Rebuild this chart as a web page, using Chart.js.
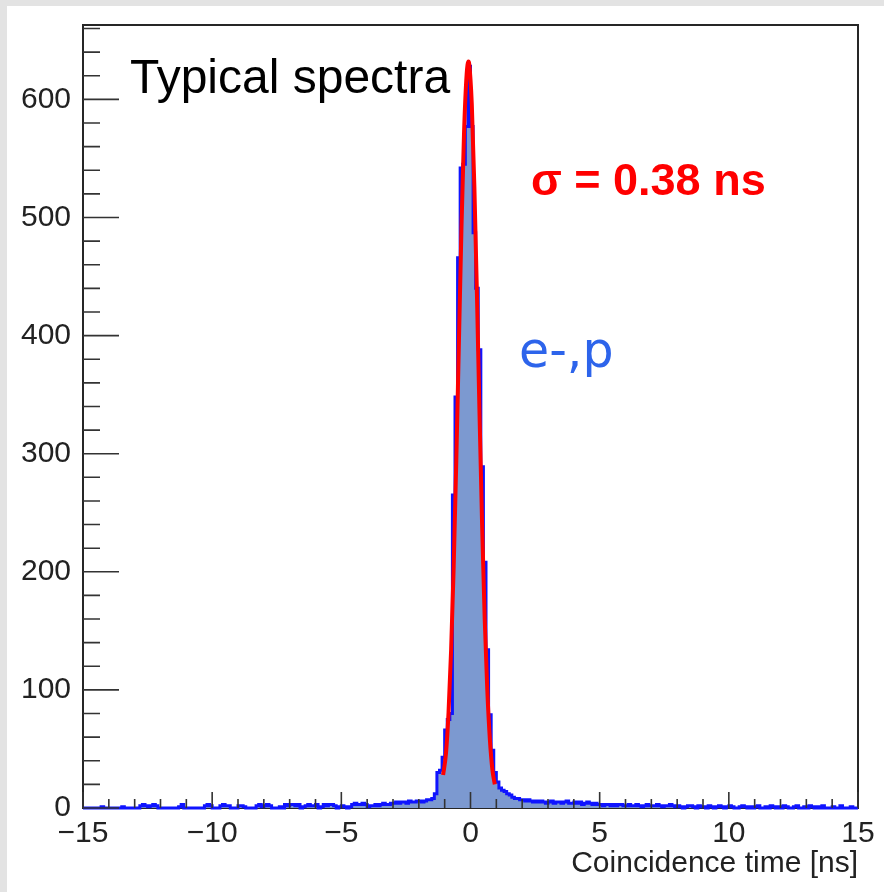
<!DOCTYPE html>
<html>
<head>
<meta charset="utf-8">
<script src="https://cdn.jsdelivr.net/npm/chart.js@4.4.1/dist/chart.umd.min.js"></script>
<style>
  html, body { margin: 0; padding: 0; background: #fff; }
  canvas { display: block; }
</style>
</head>
<body>
<canvas id="chart" width="884" height="892"></canvas>
<script>
// coincidence time histogram, 0.1 ns bins from -15 to 15 ns
const binStart = -15;
const binWidth = 0.1;
const counts = [
  0, 0, 0, 0, 0, 0, 0, 1, 0, 0,
  0, 0, 0, 0, 0, 1, 0, 0, 0, 0,
  0, 0, 2, 3, 2, 1, 2, 3, 2, 0,
  0, 0, 0, 0, 0, 0, 0, 1, 3, 0,
  0, 0, 0, 0, 0, 0, 0, 2, 3, 2,
  0, 0, 0, 2, 3, 2, 2, 0, 0, 0,
  2, 2, 1, 0, 0, 0, 0, 2, 3, 1,
  2, 3, 2, 0, 0, 0, 1, 0, 3, 2,
  3, 3, 2, 3, 0, 1, 2, 3, 2, 2,
  3, 0, 1, 3, 2, 3, 3, 2, 0, 1,
  2, 1, 0, 1, 3, 4, 3, 3, 4, 3,
  1, 2, 2, 3, 2, 3, 4, 3, 3, 4,
  4, 5, 4, 5, 5, 4, 6, 5, 5, 6,
  6, 5, 6, 7, 7, 8, 12, 30, 32, 43,
  66, 75, 80, 265, 348, 466, 542, 545, 577, 628,
  577, 487, 440, 388, 289, 208, 134, 79, 49, 30,
  22, 17, 15, 14, 12, 11, 9, 8, 8, 7,
  7, 6, 7, 6, 5, 6, 5, 6, 5, 4,
  5, 6, 4, 5, 5, 4, 5, 6, 4, 4,
  5, 4, 5, 3, 4, 5, 4, 3, 4, 3,
  3, 2, 3, 3, 2, 3, 2, 3, 3, 2,
  2, 3, 2, 2, 3, 2, 1, 2, 3, 2,
  2, 2, 3, 2, 1, 2, 2, 3, 2, 1,
  2, 1, 0, 1, 2, 2, 1, 0, 2, 1,
  1, 0, 2, 1, 0, 1, 2, 1, 0, 1,
  2, 1, 0, 0, 1, 2, 1, 0, 1, 0,
  1, 2, 0, 0, 1, 0, 2, 1, 0, 1,
  0, 2, 1, 0, 0, 1, 2, 0, 0, 1,
  0, 2, 1, 0, 1, 0, 2, 0, 0, 0,
  1, 0, 0, 2, 0, 0, 0, 1, 0, 0
];

// red fit curve
const fitX = [-1.06, -0.95, -0.85, -0.75, -0.65, -0.55, -0.45, -0.35, -0.25, -0.15, -0.08,
              -0.05, 0.05, 0.15, 0.25, 0.35, 0.45, 0.55, 0.65, 0.75, 0.85, 0.94];
const fitY = [28, 46, 81, 134, 205, 294, 393, 491, 572, 621, 632,
              630, 596, 526, 434, 333, 239, 160, 100, 58, 32, 20];

const xMin = -15, xMax = 15;
const yMin = 0, yMax = 663;

let histPoints = counts.map((c, i) => ({ x: binStart + i * binWidth, y: c }));
histPoints.push({ x: binStart + counts.length * binWidth, y: counts[counts.length - 1] });
let fitPoints = fitX.map((x, i) => ({ x: x, y: fitY[i] }));

const axisFont = { family: 'Liberation Sans, Arial, sans-serif', size: 30 };

const rootStyle = {
  id: 'rootStyle',
  beforeDraw(chart) {
    const ctx = chart.ctx;
    ctx.save();
    ctx.fillStyle = '#e3e3e3';
    ctx.fillRect(0, 0, chart.width, chart.height);
    ctx.fillStyle = '#ffffff';
    ctx.fillRect(7, 6, chart.width - 7, chart.height - 6);
    ctx.restore();
  },
  beforeDatasetsDraw(chart) {
    const { ctx, chartArea: a } = chart;
    ctx.save();
    ctx.strokeStyle = '#262626';
    ctx.lineWidth = 2;
    ctx.strokeRect(a.left, a.top, a.right - a.left, a.bottom - a.top);
    ctx.restore();
  },
  afterDatasetsDraw(chart) {
    const { ctx, chartArea: a, scales } = chart;
    ctx.save();
    ctx.strokeStyle = '#333';
    ctx.lineWidth = 1.6;
    ctx.beginPath();
    for (let v = 0; v <= yMax; v += 20) {
      const y = scales.y.getPixelForValue(v);
      const len = v % 100 === 0 ? 36 : 17;
      ctx.moveTo(a.left, y);
      ctx.lineTo(a.left + len, y);
    }
    for (let t = xMin; t <= xMax; t += 1) {
      const x = scales.x.getPixelForValue(t);
      const len = t % 5 === 0 ? 16 : 9;
      ctx.moveTo(x, a.bottom);
      ctx.lineTo(x, a.bottom - len);
    }
    ctx.stroke();
    ctx.restore();
  },
  afterDraw(chart) {
    const ctx = chart.ctx;
    ctx.save();
    ctx.textAlign = 'left';
    ctx.textBaseline = 'alphabetic';
    ctx.fillStyle = '#000';
    ctx.font = '48px "Liberation Sans", Arial, sans-serif';
    ctx.fillText('Typical spectra', 130, 93);
    ctx.fillStyle = '#ff0000';
    ctx.font = 'bold 45px "Liberation Sans", Arial, sans-serif';
    ctx.fillText('σ = 0.38 ns', 531, 195);
    ctx.fillStyle = 'rgb(45,100,235)';
    ctx.font = '49px "DejaVu Sans", Verdana, sans-serif';
    ctx.fillText('e-,p', 519, 367);
    ctx.restore();
  }
};

const ctx = document.getElementById('chart').getContext('2d');
const chart = new Chart(ctx, {
  type: 'line',
  data: {
    datasets: [
      {
        label: 'fit',
        data: fitPoints,
        borderColor: 'rgb(255,0,0)',
        borderWidth: 4,
        pointRadius: 0,
        fill: false,
        cubicInterpolationMode: 'monotone',
        order: 0
      },
      {
        label: 'e-,p',
        data: histPoints,
        borderColor: 'rgb(15,20,255)',
        backgroundColor: 'rgb(124,153,208)',
        borderWidth: 3,
        pointRadius: 0,
        stepped: true,
        fill: 'origin',
        clip: 4,
        order: 1
      }
    ]
  },
  options: {
    responsive: false,
    animation: false,
    events: [],
    layout: { padding: { left: 0, top: 25, right: 26, bottom: 0 } },
    plugins: {
      legend: { display: false },
      tooltip: { enabled: false }
    },
    scales: {
      x: {
        type: 'linear',
        min: xMin,
        max: xMax,
        grid: { display: false, drawTicks: false, tickLength: 0 },
        border: { display: false },
        ticks: {
          stepSize: 5,
          padding: 8,
          color: '#222',
          font: axisFont,
          maxRotation: 0,
          callback: (v) => String(v).replace('-', '\u2212')
        },
        title: {
          display: true,
          text: 'Coincidence time [ns]',
          align: 'end',
          color: '#222',
          font: axisFont,
          padding: { top: 0, bottom: 10 }
        },
        afterFit: (scale) => {
          scale.height = 84;
          scale.paddingLeft = 0;
          scale.paddingRight = 0;
        }
      },
      y: {
        min: yMin,
        max: yMax,
        grid: { display: false, drawTicks: false, tickLength: 0 },
        border: { display: false },
        ticks: {
          stepSize: 100,
          includeBounds: false,
          padding: 12,
          color: '#222',
          font: axisFont
        },
        afterFit: (scale) => {
          scale.width = 83;
          scale.paddingTop = 0;
          scale.paddingBottom = 0;
        }
      }
    }
  },
  plugins: [rootStyle]
});
</script>
</body>
</html>
